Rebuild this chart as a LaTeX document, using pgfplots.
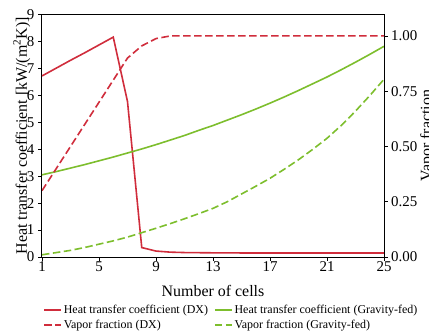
\documentclass[border=0pt]{standalone}
\usepackage{fontspec}
\setmainfont{Liberation Serif}
\usepackage{pgfplots}
\pgfplotsset{compat=1.18}
\definecolor{dxred}{RGB}{208,45,60}
\definecolor{gfgreen}{RGB}{125,190,45}
\begin{document}
\begin{tikzpicture}[x=1bp,y=1bp]
\pgfplotsset{
  common/.style={
    scale only axis, width=342bp, height=242.5bp,
    at={(42bp,79bp)}, anchor=south west,
    xmin=1, xmax=25,
    tick align=outside, major tick length=3.5bp,
    tick style={black, line width=0.8bp},
    axis line style={black, line width=1bp},
    ticklabel style={font=\fontsize{15}{15}\selectfont},
    /pgf/number format/assume math mode=true,
    clip=true,
  },
  dashsty/.style={dash pattern=on 7.5bp off 3.5bp},
}
\begin{axis}[common,
  axis y line*=left,
  xtick={1,5,...,25}, xtick pos=bottom,
  ymin=0, ymax=9, ytick={0,1,...,9},
  xticklabel style={inner sep=0pt, anchor=north, yshift=-1bp},
  yticklabel style={inner sep=0pt, anchor=east, xshift=-4bp},
  xlabel={Number of cells},
  every axis x label/.style={at={(axis description cs:0.5,-0.161)}, anchor=base, font=\fontsize{16}{16}\selectfont},
  ylabel={Heat transfer coefficient [kW/(m\textsuperscript{2}K)]},
  every axis y label/.style={at={(axis description cs:-0.085,0.5)}, rotate=90, anchor=north, inner sep=0pt, font=\fontsize{16}{16}\selectfont},
]
\addplot[dxred, line width=1.6bp] coordinates {
(1,6.72)(2,7.01)(3,7.30)(4,7.58)(5,7.87)(6,8.16)(7,5.77)(8,0.35)(9,0.22)(10,0.18)(11,0.165)(12,0.16)(13,0.155)(15,0.15)(17,0.15)(19,0.15)(21,0.15)(23,0.15)(25,0.15)};
\addplot[gfgreen, line width=1.6bp] coordinates {
(1,3.05)(2,3.17)(3,3.30)(4,3.43)(5,3.57)(6,3.71)(7,3.86)(8,4.01)(9,4.17)(10,4.34)(11,4.51)(12,4.70)(13,4.88)(14,5.08)(15,5.28)(16,5.49)(17,5.71)(18,5.94)(19,6.18)(20,6.43)(21,6.68)(22,6.95)(23,7.23)(24,7.52)(25,7.82)};
\end{axis}
\begin{axis}[common,
  axis y line*=right, axis x line=none,
  ymin=0, ymax=1.097, ytick={0,0.25,0.5,0.75,1},
  yticklabel style={inner sep=0pt, anchor=west, xshift=3.5bp,
    /pgf/number format/.cd, fixed, fixed zerofill, precision=2},
  ylabel={Vapor fraction},
  every axis y label/.style={at={(axis description cs:1.105,0.5)}, rotate=90, anchor=north, inner sep=0pt, font=\fontsize{16}{16}\selectfont},
  legend columns=2,
  legend cell align=left,
  legend style={at={(axis description cs:0.003,-0.188)}, anchor=north west, draw=none, fill=none, inner sep=0pt,
    font=\fontsize{12}{12}\selectfont,
    nodes={inner xsep=2bp, inner ysep=1.5bp, text height=9bp, text depth=3bp},
    /tikz/every even column/.append style={column sep=4bp}},
]
\addlegendimage{dxred, line width=1.6bp}
\addlegendentry{Heat transfer coefficient (DX)}
\addlegendimage{gfgreen, line width=1.6bp}
\addlegendentry{Heat transfer coefficient (Gravity-fed)}
\addplot[dxred, line width=1.6bp, dashsty] coordinates {
(1,0.30)(2,0.40)(3,0.50)(4,0.60)(5,0.70)(6,0.80)(7,0.90)(8,0.955)(9,0.988)(10,1.0)(11,1.0)(13,1.0)(15,1.0)(17,1.0)(19,1.0)(21,1.0)(23,1.0)(25,1.0)};
\addlegendentry{Vapor fraction (DX)}
\addplot[gfgreen, line width=1.6bp, dashsty] coordinates {
(1,0.01)(2,0.02)(3,0.03)(4,0.043)(5,0.058)(6,0.073)(7,0.09)(8,0.11)(9,0.13)(10,0.151)(11,0.173)(12,0.196)(13,0.22)(14,0.25)(15,0.285)(16,0.32)(17,0.356)(18,0.397)(19,0.44)(20,0.487)(21,0.537)(22,0.595)(23,0.66)(24,0.73)(25,0.804)};
\addlegendentry{Vapor fraction (Gravity-fed)}
\end{axis}
\pgfresetboundingbox
\path[use as bounding box] (0,0) rectangle (429bp,336bp);
\end{tikzpicture}
\end{document}
